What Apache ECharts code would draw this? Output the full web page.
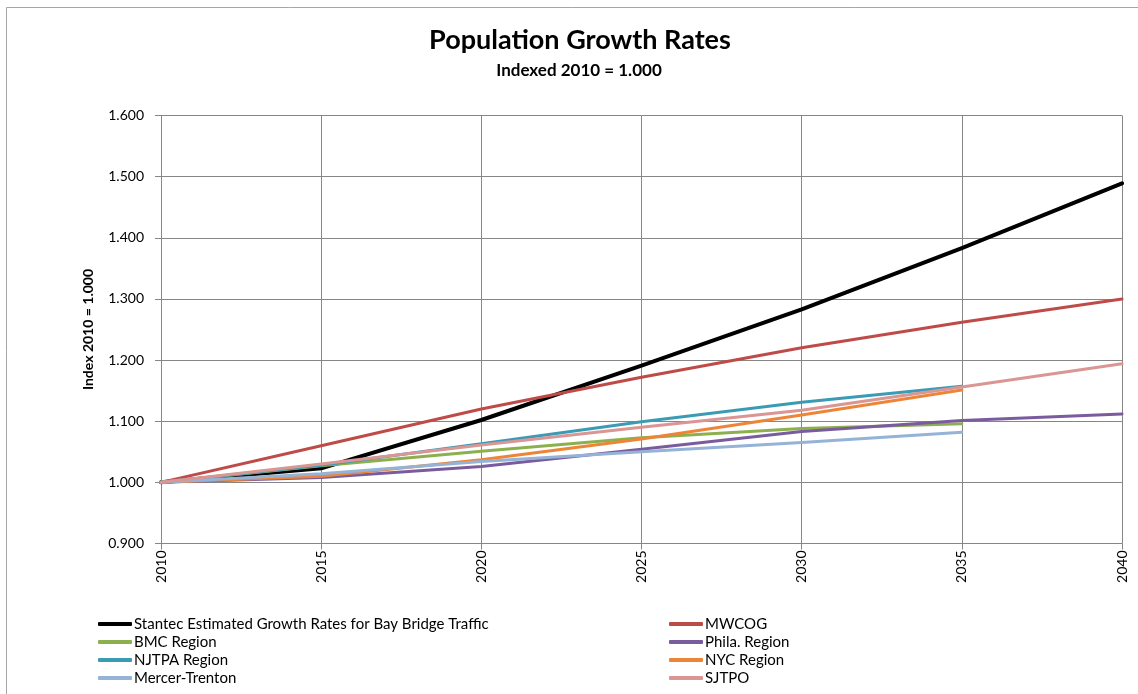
<!DOCTYPE html>
<html>
<head>
<meta charset="utf-8">
<script src="https://cdn.jsdelivr.net/npm/echarts@6/dist/echarts.min.js"></script>
<style>
  html, body { margin: 0; padding: 0; background: #fff; }
  #chart { width: 1138px; height: 694px; }
</style>
</head>
<body>
<div id="chart"></div>
<script>
// Forecast years (5-year steps)
const years = [2010, 2015, 2020, 2025, 2030, 2035, 2040];

// Population index by region, 2010 = 1.000
const stantec = [1.000, 1.023, 1.102, 1.191, 1.283, 1.383, 1.489];
const mwcog   = [1.000, 1.060, 1.120, 1.172, 1.220, 1.262, 1.300];
const bmc     = [1.000, 1.027, 1.051, 1.073, 1.088, 1.096];
const phila   = [1.000, 1.008, 1.026, 1.054, 1.083, 1.101, 1.112];
const njtpa   = [1.000, 1.028, 1.063, 1.099, 1.131, 1.157];
const nyc     = [1.000, 1.010, 1.037, 1.071, 1.110, 1.151];
const mercer  = [1.000, 1.014, 1.034, 1.050, 1.065, 1.082];
const sjtpo   = [1.000, 1.030, 1.061, 1.090, 1.118, 1.156, 1.194];

const seriesNames = [
  'Stantec Estimated Growth Rates for Bay Bridge Traffic',
  'MWCOG', 'BMC Region', 'Phila. Region', 'NJTPA Region',
  'NYC Region', 'Mercer-Trenton', 'SJTPO'
];
const seriesValues = [stantec, mwcog, bmc, phila, njtpa, nyc, mercer, sjtpo];
const seriesColors = ['#000000', '#BE4B48', '#8CB04E', '#7A5C9E', '#3C9BB4', '#EE8536', '#95B3D7', '#D99694'];
const seriesWidths = [4, 3, 3, 3, 3, 3, 3, 3];

const FONT = 'Lato, "Open Sans", sans-serif';

const chart = echarts.init(document.getElementById('chart'), null, { renderer: 'canvas' });

const series = seriesNames.map((name, k) => ({
  name,
  type: 'line',
  data: seriesValues[k].map((v, i) => [years[i], v]),
  symbol: 'none',
  lineStyle: { color: seriesColors[k], width: seriesWidths[k], cap: 'round', join: 'round' },
  itemStyle: { color: seriesColors[k] },
  z: 2 + k
}));

const legendCommon = {
  orient: 'vertical',
  icon: 'roundRect',
  itemWidth: 34,
  itemHeight: 4,
  itemGap: 0,
  padding: 0,
  height: 80,
  textStyle: { fontFamily: FONT, fontSize: 15, color: '#000', lineHeight: 18, padding: [0, 0, 0, -3] },
  selectedMode: false,
  top: 615
};

chart.setOption({
  animation: false,
  backgroundColor: '#ffffff',
  graphic: [{
    type: 'rect',
    shape: { x: 6.5, y: 7.5, width: 1300, height: 900 },
    style: { fill: 'none', stroke: '#a6a6a6', lineWidth: 1 },
    silent: true, z: -1
  }],
  title: [{
    text: 'Population Growth Rates',
    left: 575, top: 22, textAlign: 'center',
    textStyle: { fontFamily: FONT, fontWeight: 'bold', fontSize: 27, color: '#000' }
  }, {
    text: 'Indexed 2010 = 1.000',
    left: 574, top: 57, textAlign: 'center',
    textStyle: { fontFamily: FONT, fontWeight: 'bold', fontSize: 17, color: '#000' }
  }],
  legend: [
    Object.assign({}, legendCommon, {
      left: 98,
      data: [seriesNames[0], seriesNames[2], seriesNames[4], seriesNames[6]]
    }),
    Object.assign({}, legendCommon, {
      left: 669,
      data: [seriesNames[1], seriesNames[3], seriesNames[5], seriesNames[7]]
    })
  ],
  grid: { left: 161, right: 16, top: 115.5, bottom: 150.5, containLabel: false },
  xAxis: {
    type: 'value',
    min: 2010, max: 2040, interval: 5,
    axisLine: { show: true, lineStyle: { color: '#868686', width: 1 } },
    axisTick: { show: true, length: 6, lineStyle: { color: '#868686' } },
    axisLabel: {
      rotate: 90, margin: 7,
      fontFamily: FONT, fontSize: 14, color: '#000',
      formatter: v => String(v)
    },
    splitLine: { show: true, lineStyle: { color: '#868686', width: 1 } }
  },
  yAxis: {
    type: 'value',
    min: 0.9, max: 1.6, interval: 0.1,
    name: 'Index 2010 = 1.000',
    nameLocation: 'middle',
    nameGap: 66,
    nameRotate: 90,
    nameTextStyle: { fontFamily: FONT, fontWeight: 'bold', fontSize: 14, color: '#000' },
    axisLine: { show: true, lineStyle: { color: '#868686', width: 1 } },
    axisTick: { show: true, length: 6, lineStyle: { color: '#868686' } },
    axisLabel: {
      margin: 17,
      fontFamily: FONT, fontSize: 14, color: '#000',
      formatter: v => v.toFixed(3)
    },
    splitLine: { show: true, lineStyle: { color: '#868686', width: 1 } }
  },
  series
});
</script>
</body>
</html>
